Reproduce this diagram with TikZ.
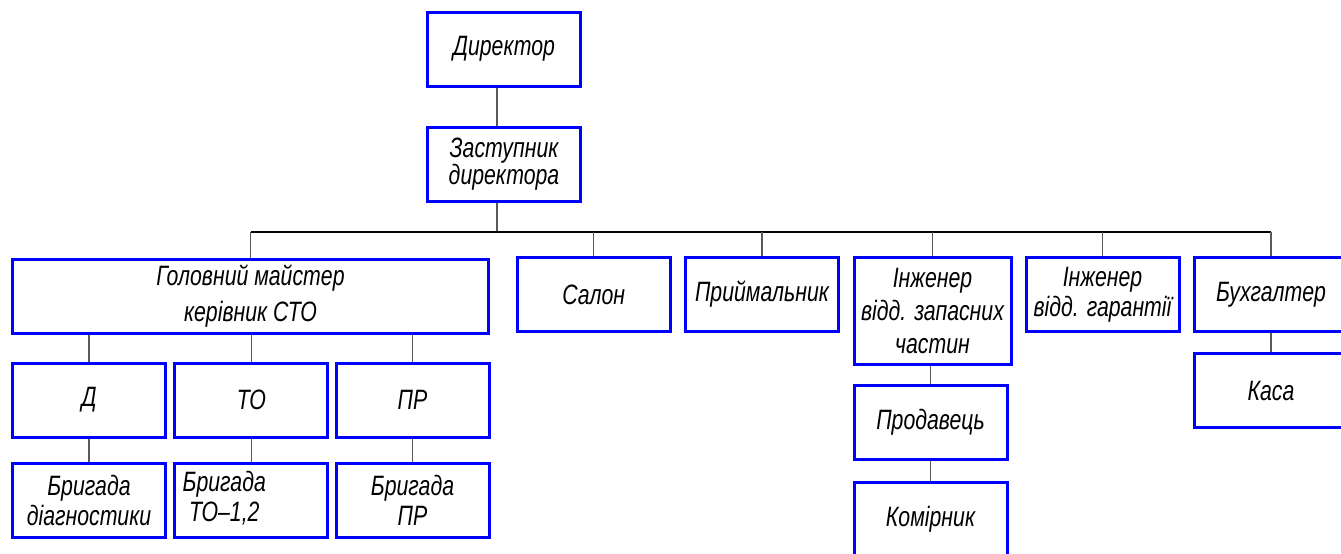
\documentclass[tikz,border=0pt]{standalone}
\usepackage{fontspec}
\newfontfamily\gostfont{Liberation Sans Italic}[FakeStretch=0.76]
\tikzset{
    box/.style={draw=blue, line width=3pt, minimum width=153pt, minimum height=74pt,
        inner sep=0pt, align=center, font=\gostfont\fontsize{28}{27}\selectfont},
    link/.style={draw=black!65, line width=1.3pt}
}
\begin{document}
\begin{tikzpicture}[x=1pt, y=-1pt]
    \useasboundingbox (0,0) rectangle (1341,554);
    \coordinate (bus) at (497,232);
    % top of the chart
    \node[box] (dir) at (504,49) {Директор};
    \node[box] (zast) at (504,164.5) {Заступник\\директора};
    % second row
    \node[box, minimum width=476pt, font=\gostfont\fontsize{28}{36}\selectfont] (head) at (250.5,296) {Головний майстер\\керівник СТО};
    \node[box] (salon) at (593.7,294.5) {Салон};
    \node[box] (recv) at (762,294.5) {Приймальник};
    \node[box, minimum width=157pt, minimum height=107pt, font=\gostfont\fontsize{28}{33}\selectfont] (parts) at (932.5,310.8) {Інженер\\відд. запасних\\частин};
    \node[box, font=\gostfont\fontsize{28}{30}\selectfont] (warr) at (1102.5,294.5) {Інженер\\відд. гарантії};
    \node[box] (acct) at (1271,294.5) {Бухгалтер};
    % workshops
    \node[box] (diag) at (89,400) {Д};
    \node[box] (maint) at (251.3,400) {ТО};
    \node[box] (repair) at (412.5,400) {ПР};
    \node[box, font=\gostfont\fontsize{28}{30}\selectfont] (bdiag) at (89,500.2) {Бригада\\діагностики};
    \node[box, font=\gostfont\fontsize{28}{30}\selectfont] (bmaint) at (251.3,500.2) {\kern-54pt\begin{tabular}{@{}c@{}}Бригада\\ТО–1,2\end{tabular}};
    \node[box, font=\gostfont\fontsize{28}{30}\selectfont] (brepair) at (412.5,500.2) {Бригада\\ПР};
    % columns under the departments
    \node[box] (seller) at (930.5,422) {Продавець};
    \node[box] (store) at (930.5,519) {Комірник};
    \node[box] (cash) at (1271,390.8) {Каса};
    % connectors
    \draw[link] (dir.south -| bus) -- (zast.north -| bus);
    \draw[link] (zast.south -| bus) -- (bus);
    \draw[line width=1.3pt] (head.north |- bus) -- (acct.north |- bus);
    \foreach \n in {head,salon,recv,parts,warr,acct}
        \draw[link] (\n.north |- bus) -- (\n.north);
    \foreach \a/\b in {diag/bdiag,maint/bmaint,repair/brepair}
        \draw[link] (\a.north |- head.south) -- (\a.north) (\a.south) -- (\b.north);
    \draw[link] (parts.south -| seller) -- (seller.north);
    \draw[link] (seller.south) -- (store.north);
    \draw[link] (acct.south) -- (cash.north);
\end{tikzpicture}
\end{document}
